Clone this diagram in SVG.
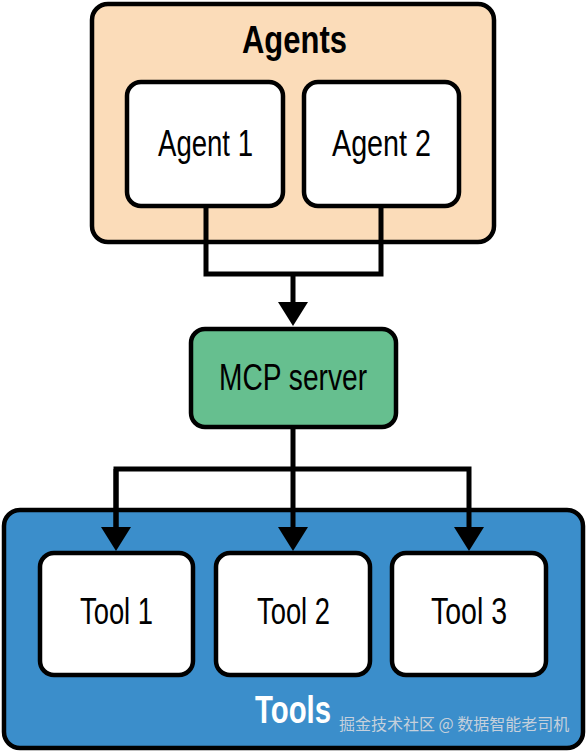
<svg xmlns="http://www.w3.org/2000/svg" width="587" height="752" viewBox="0 0 587 752">
<style>
.box{stroke:#000;stroke-width:4.5}
.inner{fill:#fff}
.lbl{font-family:'Liberation Sans',Arial,sans-serif;font-size:36px;fill:#000;text-anchor:start}
.title{font-family:'Liberation Sans',Arial,sans-serif;font-size:39px;font-weight:bold;text-anchor:start}
.conn{fill:none;stroke:#000;stroke-width:5;stroke-linejoin:miter}
.wm{font-family:'Noto Sans CJK SC',sans-serif;font-size:16px;fill:#d4d8de;opacity:0.9}
</style>
<defs>
<marker id="arr" viewBox="0 0 24 30" markerWidth="24" markerHeight="30" refX="10" refY="15" orient="auto" markerUnits="userSpaceOnUse">
<path d="M0,0 L24,15 L0,30 z" fill="#000"/>
</marker>
</defs>
<rect width="587" height="752" fill="#fff"/>
<g id="agents">
<rect class="box" x="92" y="4" width="402" height="238" rx="16" fill="#fbdcb9"/>
<text class="title" x="242" y="53" fill="#000" textLength="105" lengthAdjust="spacingAndGlyphs">Agents</text>
</g>
<g id="agent1">
<rect class="box inner" x="127" y="82" width="156" height="124" rx="14"/>
<text class="lbl" x="158" y="156" textLength="95" lengthAdjust="spacingAndGlyphs">Agent 1</text>
</g>
<g id="agent2">
<rect class="box inner" x="304" y="82" width="155" height="124" rx="14"/>
<text class="lbl" x="332" y="156" textLength="99" lengthAdjust="spacingAndGlyphs">Agent 2</text>
</g>
<g id="tools">
<rect class="box" x="4" y="510" width="579" height="238" rx="16" fill="#3b8ecb"/>
<text class="title" x="255" y="723" fill="#fff" textLength="76" lengthAdjust="spacingAndGlyphs">Tools</text>
<text class="wm" x="339" y="730">掘金技术社区 @ 数据智能老司机</text>
</g>
<g id="mcp">
<rect class="box" x="191" y="329" width="205" height="98" rx="14" fill="#66bf8f"/>
<text class="lbl" x="219" y="390" textLength="148" lengthAdjust="spacingAndGlyphs">MCP server</text>
</g>
<g id="connectors">
<path class="conn" d="M206,206 V274 H381 V206"/>
<path class="conn" d="M293,274 V312" marker-end="url(#arr)"/>
<path class="conn" d="M293,427 V537" marker-end="url(#arr)"/>
<path class="conn" d="M116,537 V469 H469 V537" marker-end="url(#arr)"/>
<path class="conn" d="M116,469 V537" marker-end="url(#arr)"/>
</g>
<g id="tool1">
<rect class="box inner" x="40" y="553" width="153" height="122" rx="14"/>
<text class="lbl" x="80" y="624" textLength="73" lengthAdjust="spacingAndGlyphs">Tool 1</text>
</g>
<g id="tool2">
<rect class="box inner" x="216" y="553" width="154" height="122" rx="14"/>
<text class="lbl" x="257" y="624" textLength="73" lengthAdjust="spacingAndGlyphs">Tool 2</text>
</g>
<g id="tool3">
<rect class="box inner" x="392" y="553" width="154" height="122" rx="14"/>
<text class="lbl" x="431" y="624" textLength="76" lengthAdjust="spacingAndGlyphs">Tool 3</text>
</g>
</svg>
